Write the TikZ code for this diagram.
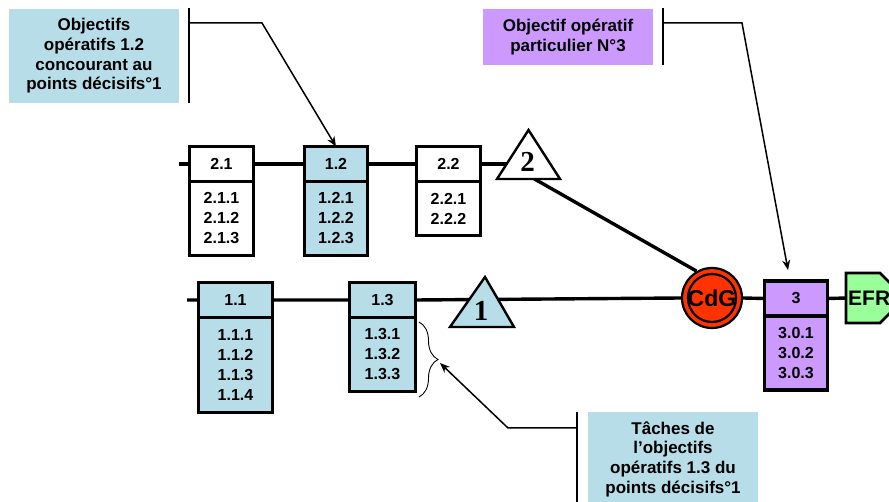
\documentclass[tikz,border=0pt]{standalone}
\usepackage{fontspec}
\setmainfont{Liberation Sans}
\newfontfamily\serifnum{Liberation Serif}
\usetikzlibrary{arrows.meta,decorations.pathreplacing,backgrounds}
\definecolor{cyanbox}{HTML}{B6DDE8}
\definecolor{purplebox}{HTML}{CC99FF}
\definecolor{redcdg}{HTML}{FF3300}
\definecolor{greenefr}{HTML}{99FF99}
\begin{document}
\begin{tikzpicture}[x=1pt,y=-1pt,
  hdr/.style={draw, line width=3.6pt, outer sep=0pt, inner sep=0pt, minimum height=35, fill=white, font=\fontsize{16}{18}\selectfont\bfseries},
  bodybox/.style={draw, line width=3.6pt, outer sep=0pt, inner sep=0pt, anchor=north, align=center, fill=white, font=\fontsize{16}{20}\selectfont\bfseries},
  conn/.style={line width=3.4pt},
  leadarrow/.style={line width=1.5pt, -{Stealth[length=10pt,width=8pt]}},
  bar/.style={line width=1.8pt},
  lbl/.style={inner sep=0pt, outer sep=0pt, align=center, font=\fontsize{17}{19.7}\selectfont\bfseries},
  tri/.style={line width=2.4pt, line join=miter},
  trinum/.style={inner sep=0pt, font=\fontsize{29}{29}\selectfont\serifnum\bfseries},
]
\path[use as bounding box] (0,0) rectangle (889,502);
\clip (0,0) rectangle (889,502);

% labels
\node[lbl, fill=cyanbox, minimum width=170, minimum height=94] (l1) at (94,56) {Objectifs\\opératifs 1.2\\concourant au\\points décisifs°1};
\node[lbl, fill=purplebox, minimum width=170, minimum height=56] (l2) at (568,37) {Objectif opératif\\particulier N°3};
\node[lbl, fill=cyanbox, minimum width=170, minimum height=94, anchor=north] (l3) at (673,412) {Tâches de\\l’objectifs\\opératifs 1.3 du\\points décisifs°1};

% top row boxes
\node[hdr, minimum width=64] (h21) at (221.5,164) {2.1};
\node[bodybox, minimum width=64, minimum height=74] (b21) at (h21.south) {2.1.1\\2.1.2\\2.1.3};
\node[hdr, fill=cyanbox, minimum width=63] (h12) at (336,164) {1.2};
\node[bodybox, fill=cyanbox, minimum width=63, minimum height=74] (b12) at (h12.south) {1.2.1\\1.2.2\\1.2.3};
\node[hdr, minimum width=64] (h22) at (448.5,164) {2.2};
\node[bodybox, minimum width=64, minimum height=54] (b22) at (h22.south) {2.2.1\\2.2.2};

% bottom row boxes
\node[hdr, fill=cyanbox, minimum width=74] (h11) at (235.5,300) {1.1};
\node[bodybox, fill=cyanbox, minimum width=74, minimum height=95] (b11) at (h11.south) {1.1.1\\1.1.2\\1.1.3\\1.1.4};
\node[hdr, fill=cyanbox, minimum width=66] (h13) at (382.5,300) {1.3};
\node[bodybox, fill=cyanbox, minimum width=66, minimum height=74] (b13) at (h13.south) {1.3.1\\1.3.2\\1.3.3};
\node[hdr, fill=purplebox, minimum width=63] (h3) at (796,298.5) {3};
\node[bodybox, fill=purplebox, minimum width=63, minimum height=74] (b3) at (h3.south) {3.0.1\\3.0.2\\3.0.3};

% triangles
\draw[tri, fill=white] (497,179) -- (528.5,130) -- (560,179) -- cycle;
\node[trinum] (t2) at (527.5,162) {2};
\draw[tri, fill=cyanbox] (450,327) -- (485,277) -- (514,327) -- cycle;
\node[trinum] (t1) at (481,311) {1};

% CdG
\node[circle, draw, line width=2.2pt, fill=redcdg, minimum size=60, inner sep=0pt, font=\fontsize{23}{23}\selectfont\bfseries] (cdg) at (712,298) {CdG};
\draw[line width=2.2pt] (cdg.center) circle[radius=24];

% EFR
\draw[line width=2.8pt, fill=greenefr, line join=miter] (846,273) -- (880,273) -- (905,298) -- (880,323) -- (846,323) -- cycle;
\node[anchor=west, inner sep=1.5pt, font=\fontsize{21}{21}\selectfont\bfseries] (efr) at (846.5,298) {EFR};

% coordinates
\coordinate (s2) at (179,164);
\coordinate (t2c) at (528,164);
\coordinate (d1) at (531,177);
\coordinate (s1) at (187,300);
\coordinate (bar1t) at (189,8);
\coordinate (bar1b) at (189,103);
\coordinate (j1) at (189,23);
\coordinate (k1) at (262,23);
\coordinate (bar2t) at (663,8);
\coordinate (bar2b) at (663,65);
\coordinate (j2) at (663,23);
\coordinate (k2) at (742,23);
\coordinate (a2) at (788,270);
\coordinate (bar3t) at (577,412);
\coordinate (bar3b) at (577,502);
\coordinate (j3) at (577,428);
\coordinate (k3) at (508,428);
\coordinate (bt) at (440,363);

% connectors behind
\begin{scope}[on background layer]
\draw[conn] (s2) -- (h21.west) (h21.east) -- (h12.west) (h12.east) -- (h22.west) (h22.east) -- (t2c);
\draw[conn] (d1) -- (cdg.120);
\draw[conn] (s1) -- (h11.west) (h11.east) -- (h13.west) (h13.east) -- (cdg.west) (cdg.east) -- (h3.west) (h3.east) -- (efr.west);
\end{scope}

% brace
\draw[line width=0.9pt, decorate, decoration={brace, amplitude=19pt}] (419,322) -- (419,397);

% leaders
\draw[bar] (bar1t) -- (bar1b);
\draw[bar] (bar2t) -- (bar2b);
\draw[bar] (bar3t) -- (bar3b);
\draw[leadarrow] (j1) -- (k1) -- (h12.north);
\draw[leadarrow] (j2) -- (k2) -- (a2);
\draw[leadarrow] (j3) -- (k3) -- (bt);
\end{tikzpicture}
\end{document}
